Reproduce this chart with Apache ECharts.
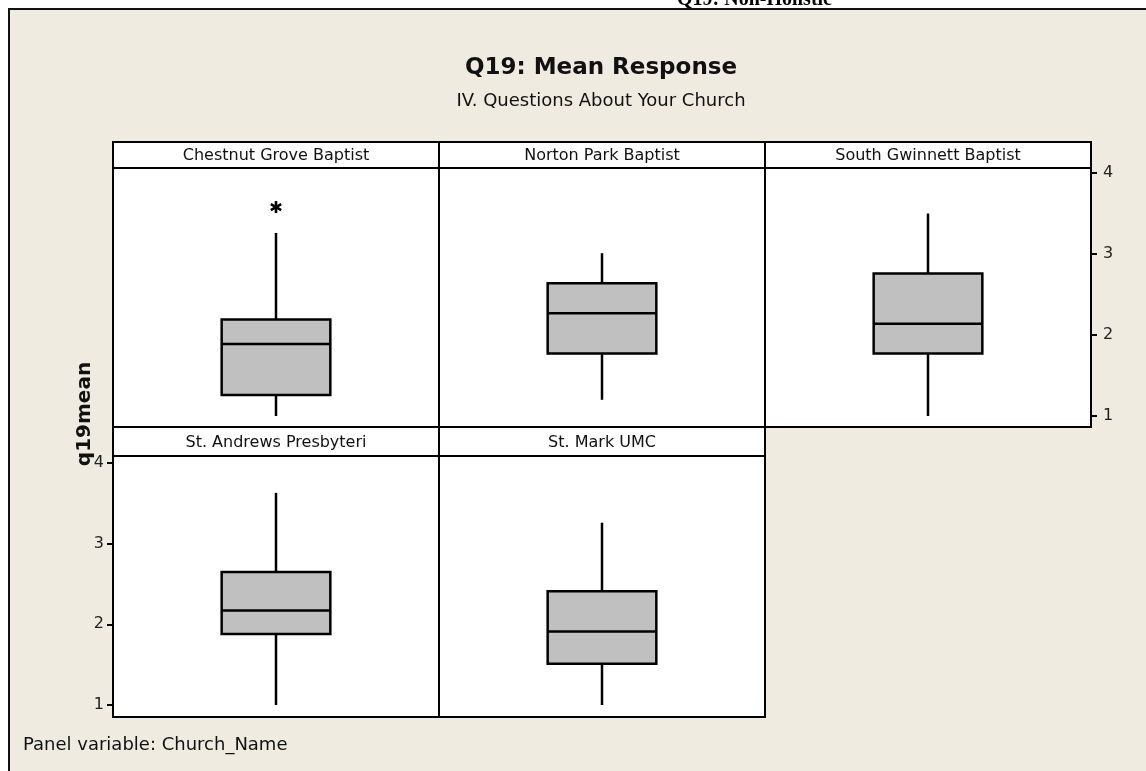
<!DOCTYPE html>
<html>
<head>
<meta charset="utf-8">
<title>Q19: Mean Response</title>
<script src="https://cdn.jsdelivr.net/npm/echarts@6/dist/echarts.min.js"></script>
<style>
  html, body { margin: 0; padding: 0; background: #fff; }
  #main { width: 1146px; height: 771px; }
</style>
</head>
<body>
<div id="main"></div>
<script>
// box plot summaries (q19mean per church)
var churches = ['Chestnut Grove Baptist', 'Norton Park Baptist', 'South Gwinnett Baptist', 'St. Andrews Presbyteri', 'St. Mark UMC'];
var whiskerLow = [1.00, 1.20, 1.00, 1.00, 1.00];
var q1 = [1.26, 1.77, 1.77, 1.88, 1.51];
var median = [1.89, 2.27, 2.14, 2.17, 1.91];
var q3 = [2.19, 2.64, 2.76, 2.65, 2.41];
var whiskerHigh = [3.26, 3.01, 3.50, 3.63, 3.26];
var outliers = [[3.58], [], [], [], []];
var yTicks = [1, 2, 3, 4];

var panelW = 326;
var cols = [113, 439, 765];
// row layout: header top, plot top, plot height, axis range
var rows = [
  { head: 142, top: 168, h: 259, min: 0.864, max: 4.062 },
  { head: 427, top: 456, h: 261, min: 0.851, max: 4.087 }
];

var myChart = echarts.init(document.getElementById('main'));

var grids = [], xAxes = [], yAxes = [], series = [], graphics = [];

function boxItem(params, api) {
  var c = api.coord([0, api.value(3)]);
  var lo = api.coord([0, api.value(1)])[1];
  var b1 = api.coord([0, api.value(2)])[1];
  var b3 = api.coord([0, api.value(4)])[1];
  var hi = api.coord([0, api.value(5)])[1];
  var half = api.size([1, 0])[0] / 6;
  var ln = { stroke: '#000', lineWidth: 2.5 };
  return {
    type: 'group',
    children: [
      { type: 'line', shape: { x1: c[0], y1: lo, x2: c[0], y2: b1 }, style: ln },
      { type: 'line', shape: { x1: c[0], y1: b3, x2: c[0], y2: hi }, style: ln },
      { type: 'rect', shape: { x: c[0] - half, y: b3, width: half * 2, height: b1 - b3 },
        style: { fill: '#c0c0c0', stroke: '#000', lineWidth: 2.5 } },
      { type: 'line', shape: { x1: c[0] - half, y1: c[1], x2: c[0] + half, y2: c[1] }, style: ln }
    ]
  };
}

function starItem(params, api) {
  var p = api.coord([0, api.value(1)]);
  var r = 6, kids = [];
  for (var k = 0; k < 3; k++) {
    var a = Math.PI / 2 + k * Math.PI / 3;
    kids.push({ type: 'line',
      shape: { x1: p[0] - r * Math.cos(a), y1: p[1] - r * Math.sin(a), x2: p[0] + r * Math.cos(a), y2: p[1] + r * Math.sin(a) },
      style: { stroke: '#000', lineWidth: 2.6 } });
  }
  return { type: 'group', children: kids };
}

churches.forEach(function (name, i) {
  var row = rows[i < 3 ? 0 : 1];
  var left = cols[i % 3];
  grids.push({ left: left, top: row.top, width: panelW, height: row.h,
    show: true, backgroundColor: '#fff', borderColor: '#000', borderWidth: 2 });
  xAxes.push({ gridIndex: i, type: 'category', data: [name], show: false });

  var labelled = (i === 2 || i === 3);
  yAxes.push({
    gridIndex: i, type: 'value', min: row.min, max: row.max,
    position: i === 2 ? 'right' : 'left',
    show: labelled,
    splitLine: { show: false },
    axisLine: { show: false },
    axisTick: { show: true, inside: false, length: 6, lineStyle: { color: '#000', width: 2 }, customValues: yTicks },
    axisLabel: { customValues: yTicks, color: '#222', fontSize: 16, fontFamily: 'DejaVu Sans', margin: i === 2 ? 12 : 9 }
  });

  series.push({
    type: 'custom', xAxisIndex: i, yAxisIndex: i,
    renderItem: boxItem,
    data: [[0, whiskerLow[i], q1[i], median[i], q3[i], whiskerHigh[i]]]
  });
  if (outliers[i].length) {
    series.push({
      type: 'custom', xAxisIndex: i, yAxisIndex: i,
      renderItem: starItem,
      data: outliers[i].map(function (v) { return [0, v]; })
    });
  }

  // panel header strip
  graphics.push({ type: 'rect', z: 5,
    shape: { x: left, y: row.head, width: panelW, height: row.top - row.head },
    style: { fill: '#fff', stroke: '#000', lineWidth: 2 } });
  graphics.push({ type: 'text', z: 6, x: left + panelW / 2, y: (row.head + row.top) / 2 + 1,
    style: { text: name, fill: '#111', font: '16px "DejaVu Sans"', align: 'center', verticalAlign: 'middle' } });
});

// page frame and texts (the page title above the frame is cut off)
graphics.unshift(
  { type: 'text', z: -2, x: 832, y: 10,
    style: { text: 'Q19: Non-Holistic', fill: '#000', font: 'bold 20px "Liberation Serif"', align: 'right', verticalAlign: 'bottom' } },
  { type: 'rect', z: -1, shape: { x: 9, y: 9, width: 1160, height: 800 },
    style: { fill: '#efebe1', stroke: '#111', lineWidth: 2 } },
  { type: 'text', z: 2, x: 601, y: 68,
    style: { text: 'Q19: Mean Response', fill: '#111', font: 'bold 23px "DejaVu Sans"', align: 'center', verticalAlign: 'middle' } },
  { type: 'text', z: 2, x: 601, y: 101,
    style: { text: 'IV. Questions About Your Church', fill: '#111', font: '18px "DejaVu Sans"', align: 'center', verticalAlign: 'middle' } },
  { type: 'text', z: 2, x: 85, y: 414, rotation: Math.PI / 2,
    style: { text: 'q19mean', fill: '#111', font: 'bold 20px "DejaVu Sans"', align: 'center', verticalAlign: 'middle' } },
  { type: 'text', z: 2, x: 23, y: 745,
    style: { text: 'Panel variable: Church_Name', fill: '#111', font: '18px "DejaVu Sans"', align: 'left', verticalAlign: 'middle' } }
);

myChart.setOption({
  animation: false,
  backgroundColor: '#fff',
  grid: grids,
  xAxis: xAxes,
  yAxis: yAxes,
  series: series,
  graphic: graphics
});
</script>
</body>
</html>
